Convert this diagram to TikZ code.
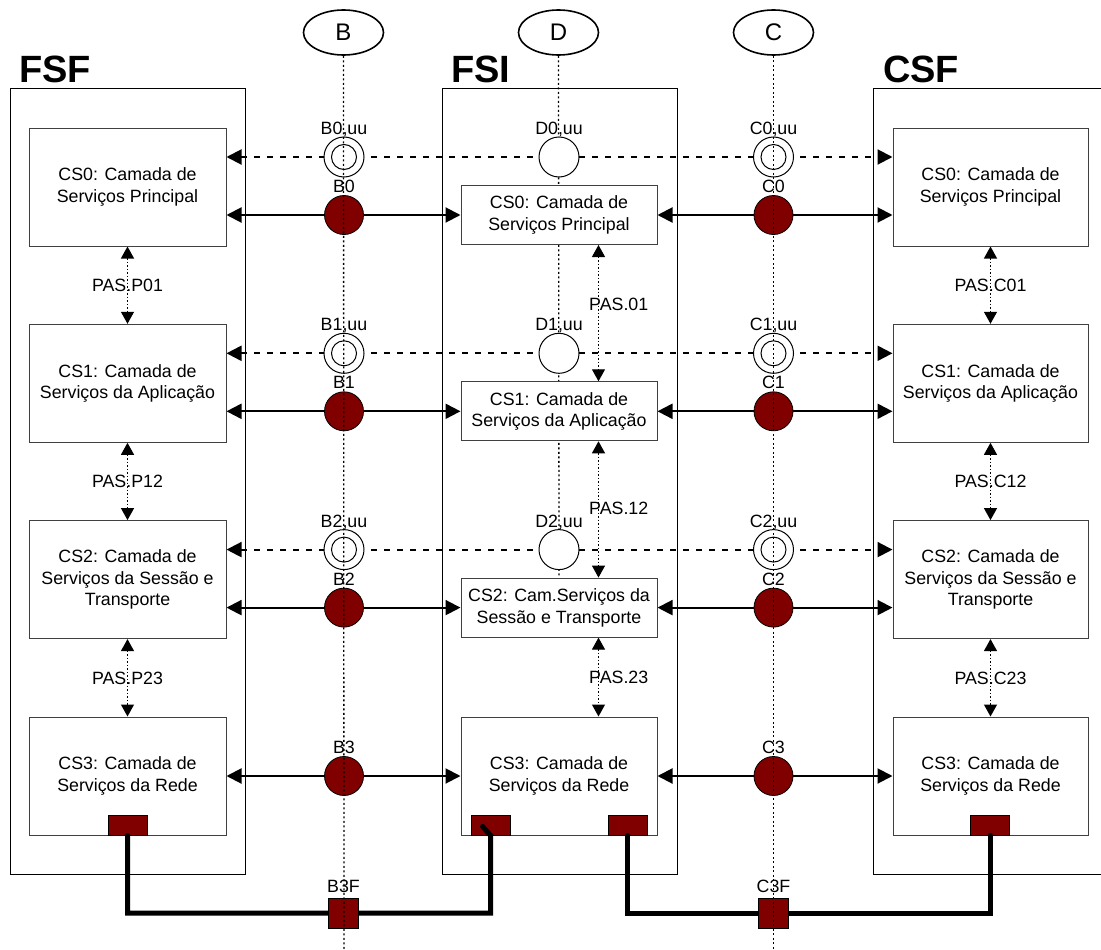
\documentclass[tikz,border=0pt]{standalone}
\usepackage{fontspec}
\setmainfont{Liberation Sans}
\usetikzlibrary{arrows.meta,shapes.geometric,calc}
\definecolor{dred}{RGB}{128,0,0}
\pgfdeclarelayer{bg}
\pgfdeclarelayer{fg}
\pgfdeclarelayer{top}
\pgfsetlayers{bg,main,fg,top}
\begin{document}
\begin{tikzpicture}[x=1pt,y=-1pt,
  txt/.style={font=\fontsize{17.8}{21.7}\selectfont},
  outerbox/.style={draw=black,line width=1pt,minimum width=235pt,minimum height=785pt,inner sep=0pt},
  csbox/.style={txt,draw=black!75,fill=white,line width=1pt,align=center,inner sep=0pt},
  bigbox/.style={csbox,minimum height=118pt},
  smallbox/.style={csbox,minimum height=59pt},
  lbl/.style={txt,inner sep=0pt,text height=12.8pt,text depth=0pt},
  hub/.style={circle,draw=black,line width=1pt,fill=white,minimum size=40pt,inner sep=0pt},
  hubred/.style={circle,draw=black,line width=0.8pt,fill=dred,minimum size=39pt,inner sep=0pt},
  port/.style={draw=black,line width=0.8pt,fill=dred,inner sep=0pt},
  solidarrow/.style={line width=2pt,{Triangle[length=15pt,width=15pt]}-{Triangle[length=15pt,width=15pt]}},
  dasharrow/.style={line width=2pt,dash pattern=on 6pt off 7pt,{Triangle[length=15pt,width=15pt]}-{Triangle[length=15pt,width=15pt]}},
  pas/.style={line width=1.2pt,dash pattern=on 1.5pt off 2pt,{Triangle[length=12pt,width=13pt]}-{Triangle[length=12pt,width=13pt]}},
  vline/.style={line width=1.3pt,dash pattern=on 2pt off 2.5pt},
  cable/.style={line width=5pt,line cap=round},
  titletxt/.style={font=\bfseries\fontsize{38}{40}\selectfont,inner sep=0pt,anchor=base west},
  ell/.style={ellipse,draw=black,line width=1.6pt,fill=white,minimum width=80pt,minimum height=45pt,inner sep=0pt,font=\fontsize{24}{26}\selectfont}
]
\useasboundingbox (0,0) rectangle (1101,950);
\begin{pgfonlayer}{bg}
\fill[white] (0,0) rectangle (1101,950);
\end{pgfonlayer}

% outer frames
\node[outerbox] (FSF) at (127.5,481.5) {};
\node[outerbox] (FSI) at (559.5,481.5) {};
\coordinate (CSFtr) at (1101,89);
\coordinate (CSFtl) at (873,89);
\coordinate (CSFbl) at (873,874);
\coordinate (CSFbr) at (1101,874);
\draw[line width=1pt] (CSFtr) -- (CSFtl) -- (CSFbl) -- (CSFbr);

% titles
\node[titletxt] (tFSF) at (19,83) {FSF};
\node[titletxt] (tFSI) at (451,83) {FSI};
\node[titletxt] (tCSF) at (883,83) {CSF};

% ellipses
\node[ell] (EB) at (343.5,32.5) {B};
\node[ell] (ED) at (558.5,32.5) {D};
\node[ell] (EC) at (773.5,32.5) {C};

% FSF boxes
\node[bigbox,minimum width=197pt] (F0) at (127.5,187) {CS0: Camada de\\Serviços Principal};
\node[bigbox,minimum width=197pt] (F1) at (127.5,383.3) {CS1: Camada de\\Serviços da Aplicação};
\node[bigbox,minimum width=197pt] (F2) at (127.5,579.6) {CS2: Camada de\\Serviços da Sessão e\\Transporte};
\node[bigbox,minimum width=197pt] (F3) at (127.5,776) {CS3: Camada de\\Serviços da Rede};
% FSI boxes
\node[smallbox,minimum width=196pt] (I0) at (559,215) {CS0: Camada de\\Serviços Principal};
\node[smallbox,minimum width=196pt] (I1) at (559,411.3) {CS1: Camada de\\Serviços da Aplicação};
\node[smallbox,minimum width=196pt] (I2) at (559,607.6) {CS2: Cam.Serviços da\\Sessão e Transporte};
\node[bigbox,minimum width=196pt] (I3) at (559,776) {CS3: Camada de\\Serviços da Rede};
% CSF boxes
\node[bigbox,minimum width=195pt] (S0) at (990.5,187) {CS0: Camada de\\Serviços Principal};
\node[bigbox,minimum width=195pt] (S1) at (990.5,383.3) {CS1: Camada de\\Serviços da Aplicação};
\node[bigbox,minimum width=195pt] (S2) at (990.5,579.6) {CS2: Camada de\\Serviços da Sessão e\\Transporte};
\node[bigbox,minimum width=195pt] (S3) at (990.5,776) {CS3: Camada de\\Serviços da Rede};

% user-plane hubs (dashed rows)
\node[hub] (Bu0) at (344,157) {};
\node[hub] (Bu1) at (344,353.3) {};
\node[hub] (Bu2) at (344,549.6) {};
\node[hub] (Du0) at (559,157) {};
\node[hub] (Du1) at (559,353.3) {};
\node[hub] (Du2) at (559,549.6) {};
\node[hub] (Cu0) at (773.5,157) {};
\node[hub] (Cu1) at (773.5,353.3) {};
\node[hub] (Cu2) at (773.5,549.6) {};
\foreach \n in {Bu0,Bu1,Bu2,Cu0,Cu1,Cu2}{
  \draw[line width=1pt] (\n.center) circle[radius=12.5pt];
}
% red hubs
\node[hubred] (B0) at (344,215) {};
\node[hubred] (B1) at (344,411.3) {};
\node[hubred] (B2) at (344,607.6) {};
\node[hubred] (B3) at (344,776) {};
\node[hubred] (C0) at (773.5,215) {};
\node[hubred] (C1) at (773.5,411.3) {};
\node[hubred] (C2) at (773.5,607.6) {};
\node[hubred] (C3) at (773.5,776) {};

% labels
\node[lbl] (lBu0) at (344,128) {B0,uu};
\node[lbl] (lBu1) at (344,324.3) {B1,uu};
\node[lbl] (lBu2) at (344,520.6) {B2,uu};
\node[lbl] (lDu0) at (559,128) {D0,uu};
\node[lbl] (lDu1) at (559,324.3) {D1,uu};
\node[lbl] (lDu2) at (559,520.6) {D2,uu};
\node[lbl] (lCu0) at (773.5,128) {C0,uu};
\node[lbl] (lCu1) at (773.5,324.3) {C1,uu};
\node[lbl] (lCu2) at (773.5,520.6) {C2,uu};
\node[lbl] (lB0) at (344,186) {B0};
\node[lbl] (lB1) at (344,382.3) {B1};
\node[lbl] (lB2) at (344,578.6) {B2};
\node[lbl] (lB3) at (344,747) {B3};
\node[lbl] (lC0) at (773.5,186) {C0};
\node[lbl] (lC1) at (773.5,382.3) {C1};
\node[lbl] (lC2) at (773.5,578.6) {C2};
\node[lbl] (lC3) at (773.5,747) {C3};

% ports
\node[port,minimum width=39pt,minimum height=20pt] (Q1) at (127.5,825) {};
\node[port,minimum width=39pt,minimum height=20pt] (Q2) at (490.5,825) {};
\node[port,minimum width=39pt,minimum height=20pt] (Q3) at (627.5,825) {};
\node[port,minimum width=39pt,minimum height=20pt] (Q4) at (990,825) {};

\begin{pgfonlayer}{top}
\node[port,minimum width=30pt,minimum height=30pt] (B3F) at (343.5,913) {};
\node[port,minimum width=30pt,minimum height=30pt] (C3F) at (773.5,913) {};
\end{pgfonlayer}
\node[lbl] (lB3F) at (343.5,886) {B3F};
\node[lbl] (lC3F) at (773.5,886) {C3F};

% connectors behind
\begin{pgfonlayer}{bg}
\draw[vline] (ED.south) -- (I2.north);
\draw[dasharrow] (Bu0 -| F0.east) -- (Bu0 -| S0.west);
\draw[dasharrow] (Bu1 -| F1.east) -- (Bu1 -| S1.west);
\draw[dasharrow] (Bu2 -| F2.east) -- (Bu2 -| S2.west);
\draw[solidarrow] (I0.west -| F0.east) -- (I0.west);
\draw[solidarrow] (I1.west -| F1.east) -- (I1.west);
\draw[solidarrow] (I2.west -| F2.east) -- (I2.west);
\draw[solidarrow] (F3.east) -- (I3.west);
\draw[solidarrow] (I0.east) -- (I0.east -| S0.west);
\draw[solidarrow] (I1.east) -- (I1.east -| S1.west);
\draw[solidarrow] (I2.east) -- (I2.east -| S2.west);
\draw[solidarrow] (I3.east) -- (S3.west);
% PAS
\draw[pas] (F0.south) -- (F1.north) node[midway,lbl] (pP01) {PAS.P01};
\draw[pas] (F1.south) -- (F2.north) node[midway,lbl] (pP12) {PAS.P12};
\draw[pas] (F2.south) -- (F3.north) node[midway,lbl] (pP23) {PAS.P23};
\draw[pas] (S0.south) -- (S1.north) node[midway,lbl] (pC01) {PAS.C01};
\draw[pas] (S1.south) -- (S2.north) node[midway,lbl] (pC12) {PAS.C12};
\draw[pas] (S2.south) -- (S3.north) node[midway,lbl] (pC23) {PAS.C23};
\draw[pas] ($(I0.south)+(39.5,0)$) -- ($(I1.north)+(39.5,0)$);
\draw[pas] ($(I1.south)+(39.5,0)$) -- ($(I2.north)+(39.5,0)$);
\draw[pas] ($(I2.south)+(39.5,0)$) -- ($(I3.north)+(39.5,0)$);
\end{pgfonlayer}
\node[lbl,anchor=west] (p01) at (589,304) {PAS.01};
\node[lbl,anchor=west] (p12) at (589,508) {PAS.12};
\node[lbl,anchor=west] (p23) at (589,677) {PAS.23};

% cables
\begin{pgfonlayer}{fg}
\draw[cable] (Q1.south) |- (B3F.center) -| (Q2.south) -- ++(-8,-9);
\draw[cable] (Q3.south) |- (C3F.center) -| (Q4.south);
\end{pgfonlayer}

% vertical reference lines
\coordinate (Bbot) at (344,950);
\coordinate (Cbot) at (773.5,950);
\begin{pgfonlayer}{top}
\draw[vline] (EB.south) -- (Bbot);
\draw[vline] (EC.south) -- (Cbot);
\end{pgfonlayer}
\end{tikzpicture}
\end{document}
